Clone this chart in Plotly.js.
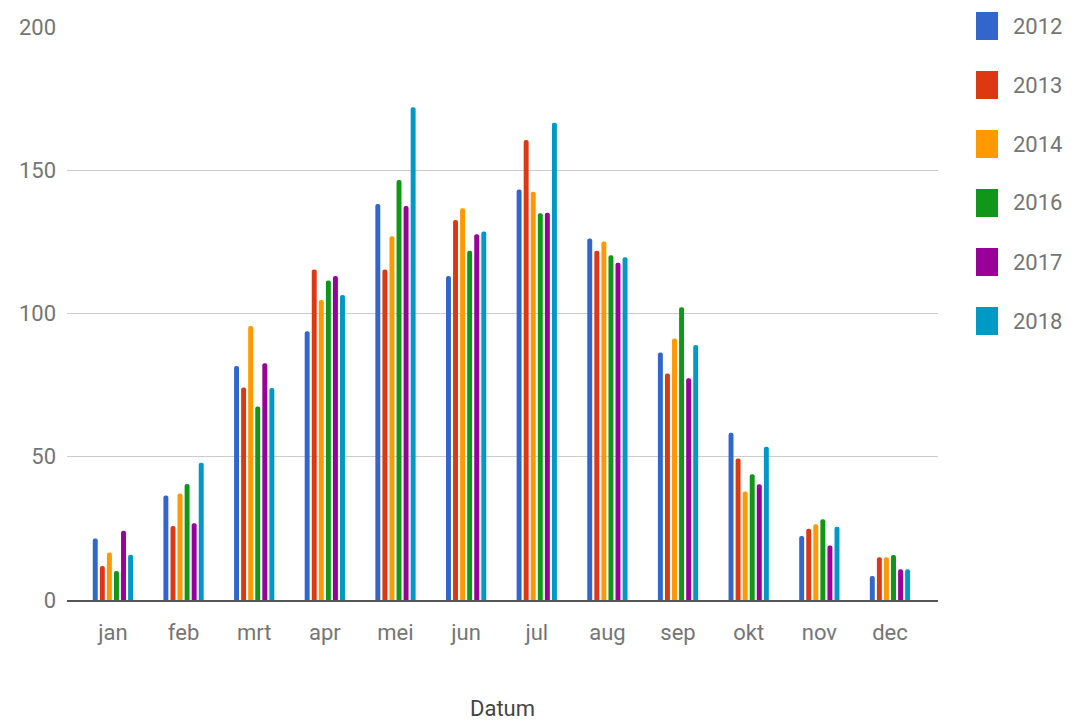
<!DOCTYPE html>
<html>
<head>
<meta charset="utf-8">
<script src="https://cdn.plot.ly/plotly-3.0.1.min.js"></script>
<style>html,body{margin:0;padding:0;background:#fff;}#chart{width:1076px;height:728px;}</style>
</head>
<body>
<div id="chart"></div>
<script>
const months = ["jan","feb","mrt","apr","mei","jun","jul","aug","sep","okt","nov","dec"];
const years = ["2012","2013","2014","2016","2017","2018"];
const colors = ["#3366cc","#dc3912","#ff9900","#109618","#990099","#0099c6"];
const v2012 = [21.5, 36.5, 81.7, 93.8, 138.2, 113.1, 143.3, 126.2, 86.4, 58.4, 22.3, 8.4];
const v2013 = [11.9, 25.8, 74.2, 115.4, 115.4, 132.6, 160.6, 121.9, 79.1, 49.4, 24.9, 14.9];
const v2014 = [16.6, 37.2, 95.6, 104.7, 127.0, 136.7, 142.5, 125.1, 91.3, 37.9, 26.4, 14.9];
const v2016 = [10.1, 40.5, 67.5, 111.5, 146.6, 121.9, 135.0, 120.3, 102.2, 43.9, 28.2, 15.7];
const v2017 = [24.2, 26.8, 82.6, 113.1, 137.5, 127.7, 135.2, 117.7, 77.4, 40.4, 19.0, 10.7];
const v2018 = [15.8, 47.9, 74.0, 106.5, 172.0, 128.6, 166.6, 119.6, 89.0, 53.5, 25.6, 10.7];
const series = [v2012, v2013, v2014, v2016, v2017, v2018];

const traces = series.map((vals, i) => ({
  type: "bar",
  name: years[i],
  x: months,
  y: vals,
  marker: {color: colors[i], cornerradius: 3},
  hoverinfo: "x+y+name"
}));

// plot area in pixels: left 67, right 938, top 27, bottom 600
const L = 67, R = 938, T = 27, B = 600;
const px2x = p => (p - L) / (R - L);
const px2y = p => (B - p) / (B - T);

const shapes = [];
const annotations = [];
years.forEach((yr, i) => {
  const top = 12 + i * 59;
  shapes.push({
    type: "rect", xref: "paper", yref: "paper",
    x0: px2x(976), x1: px2x(998), y0: px2y(top + 28), y1: px2y(top),
    fillcolor: colors[i], line: {width: 0}
  });
  annotations.push({
    xref: "paper", yref: "paper", x: px2x(1011), y: px2y(top + 14),
    xanchor: "left", yanchor: "middle", showarrow: false,
    text: yr, font: {family: "Roboto", size: 22, color: "#757575"}
  });
});

const layout = {
  width: 1076, height: 728,
  margin: {l: L, r: 1076 - R, t: T, b: 728 - B},
  paper_bgcolor: "#fff", plot_bgcolor: "#fff",
  showlegend: false,
  barmode: "group",
  bargap: 0.4,
  bargroupgap: 0.3,
  font: {family: "Roboto", size: 22, color: "#757575"},
  xaxis: {
    type: "category",
    range: [-0.65, 11.68],
    showgrid: false,
    showline: true, linecolor: "#555", linewidth: 2,
    ticks: "", ticklabelstandoff: 12,
    tickfont: {family: "Roboto", size: 22, color: "#757575"},
    title: {text: "Datum", font: {family: "Roboto", size: 22, color: "#444"}, standoff: 56},
    automargin: false
  },
  yaxis: {
    range: [0, 200], dtick: 50, tick0: 0,
    showgrid: true, gridcolor: "#cccccc", gridwidth: 1,
    zeroline: false, showline: false,
    ticks: "", ticklabelstandoff: 10,
    tickfont: {family: "Roboto", size: 22, color: "#757575"},
    automargin: false
  },
  shapes: shapes,
  annotations: annotations
};

Plotly.newPlot("chart", traces, layout, {displayModeBar: false, staticPlot: true});
</script>
</body>
</html>
